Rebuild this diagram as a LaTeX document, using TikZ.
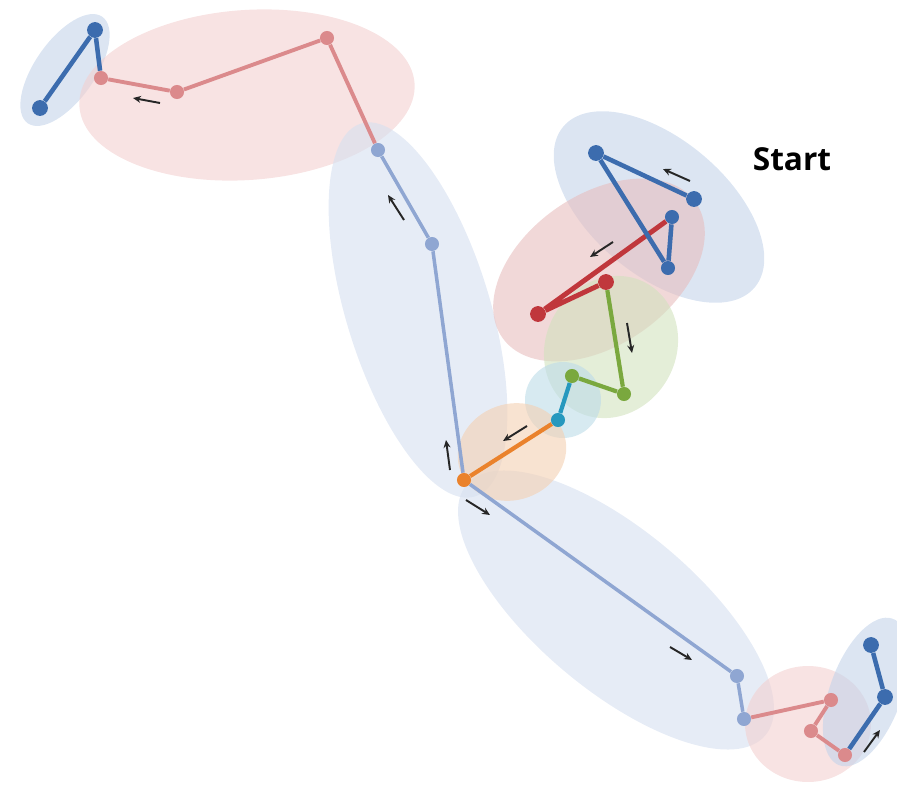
\documentclass[tikz,border=0pt]{standalone}
\usepackage{fontspec}
\setsansfont{Open Sans}
\usepackage{tikz}
\usetikzlibrary{arrows.meta,positioning}
\definecolor{dblue}{RGB}{60,108,174}
\definecolor{lblue}{RGB}{143,166,210}
\definecolor{pinkc}{RGB}{219,138,140}
\definecolor{redc}{RGB}{192,55,60}
\definecolor{greenc}{RGB}{122,168,62}
\definecolor{cyanc}{RGB}{38,152,190}
\definecolor{orangec}{RGB}{234,130,44}
\definecolor{gblue}{RGB}{196,212,234}
\definecolor{glblue}{RGB}{214,224,240}
\definecolor{gpink}{RGB}{243,208,208}
\definecolor{gred}{RGB}{232,190,190}
\definecolor{ggreen}{RGB}{210,226,190}
\definecolor{gcyan}{RGB}{188,220,232}
\definecolor{gorange}{RGB}{244,208,178}

\begin{document}
\begin{tikzpicture}[x=0.02cm, y=-0.02cm,
  joint/.style={circle, inner sep=0pt, minimum size=8pt},
  group/.style={fill opacity=0.6},
  motion/.style={-{Stealth[length=4.5pt,width=4pt]}, line width=1.1pt, black!85},
  every node/.style={font=\sffamily}]
\useasboundingbox (0,0) rectangle (897,788);

\fill[gblue, group, rotate around={55:(65,70)}] (65,70) ellipse [x radius=1.3cm, y radius=0.6cm];
\fill[gpink, group, rotate around={4:(247,95)}] (247,95) ellipse [x radius=3.36cm, y radius=1.7cm];
\fill[glblue, group, rotate around={-73:(418,310)}] (418,310) ellipse [x radius=3.9cm, y radius=1.44cm];
\fill[glblue, group, rotate around={-40:(616,610)}] (616,610) ellipse [x radius=3.9cm, y radius=1.6cm];
\fill[gblue, group, rotate around={-40:(659,207)}] (659,207) ellipse [x radius=2.5cm, y radius=1.36cm];
\fill[gred, group, rotate around={35:(599,270)}] (599,270) ellipse [x radius=2.36cm, y radius=1.5cm];
\fill[ggreen, group, rotate around={60:(611,347)}] (611,347) ellipse [x radius=1.46cm, y radius=1.3cm];
\fill[gcyan, group] (563,400) circle [radius=0.76cm];
\fill[gorange, group, rotate around={20:(512,452)}] (512,452) ellipse [x radius=1.1cm, y radius=0.96cm];
\fill[gpink, group] (808,724) ellipse [x radius=1.26cm, y radius=1.16cm];
\fill[gblue, group, rotate around={70:(866,692)}] (866,692) ellipse [x radius=1.56cm, y radius=0.72cm];

\node (b1) [joint, fill=dblue, minimum size=9pt] at (95,30) {};
\node (b2) [joint, fill=dblue, minimum size=9pt] at (40,108) {};
\node (p1) [joint, fill=pinkc] at (101,78) {};
\node (p2) [joint, fill=pinkc] at (177,92) {};
\node (p3) [joint, fill=pinkc] at (327,38) {};
\node (l1) [joint, fill=lblue] at (378,150) {};
\node (l2) [joint, fill=lblue] at (432,244) {};
\node (o1) [joint, fill=orangec] at (464,480) {};
\node (c1) [joint, fill=cyanc] at (558,420) {};
\node (g1) [joint, fill=greenc] at (572,376) {};
\node (g2) [joint, fill=greenc] at (624,394) {};
\node (r2) [joint, fill=redc, minimum size=9pt] at (606,282) {};
\node (r1) [joint, fill=redc, minimum size=9pt] at (538,314) {};
\node (b3) [joint, fill=dblue] at (672,217) {};
\node (b4) [joint, fill=dblue] at (668,268) {};
\node (b5) [joint, fill=dblue, minimum size=9pt] at (596,153) {};
\node (b6) [joint, fill=dblue, minimum size=9pt] at (694,199) {};
\node (l3) [joint, fill=lblue] at (737,676) {};
\node (l4) [joint, fill=lblue] at (744,719) {};
\node (p4) [joint, fill=pinkc] at (831,700) {};
\node (p5) [joint, fill=pinkc] at (811,731) {};
\node (p6) [joint, fill=pinkc] at (845,755) {};
\node (b7) [joint, fill=dblue, minimum size=9pt] at (871,645) {};
\node (b8) [joint, fill=dblue, minimum size=9pt] at (885,697) {};

\draw [dblue, line width=2.6pt] (b2) -- (b1) -- (p1);
\draw [pinkc, line width=2.2pt] (p1) -- (p2) -- (p3) -- (l1);
\draw [lblue, line width=2pt] (l1) -- (l2) -- (o1) -- (l3) -- (l4);
\draw [orangec, line width=2.4pt] (o1) -- (c1);
\draw [cyanc, line width=2.4pt] (c1) -- (g1);
\draw [greenc, line width=2.4pt] (g1) -- (g2) -- (r2);
\draw [redc, line width=2.8pt] (r2) -- (r1) -- (b3);
\draw [dblue, line width=2.6pt] (b3) -- (b4) -- (b5) -- (b6);
\draw [pinkc, line width=2.2pt] (l4) -- (p4) -- (p5) -- (p6);
\draw [dblue, line width=2.6pt] (p6) -- (b8) -- (b7);

\foreach \i/\tx/\ty/\hx/\hy in {1/160/103/133/98, 2/404/220/388/195, 3/450/470/446/440,
    4/527/426/503/441, 5/627/323/632/353, 6/613/242/590/257, 7/690/181/663/169,
    8/466/500/490/515, 9/670/647/692/660, 10/864/752/880/730} {
  \coordinate (t\i) at (\tx,\ty);
  \coordinate (h\i) at (\hx,\hy);
  \draw [motion] (t\i) -- (h\i);
}

\node (start) at (792,159) {\fontsize{18}{20}\selectfont\bfseries Start};
\end{tikzpicture}
\end{document}
